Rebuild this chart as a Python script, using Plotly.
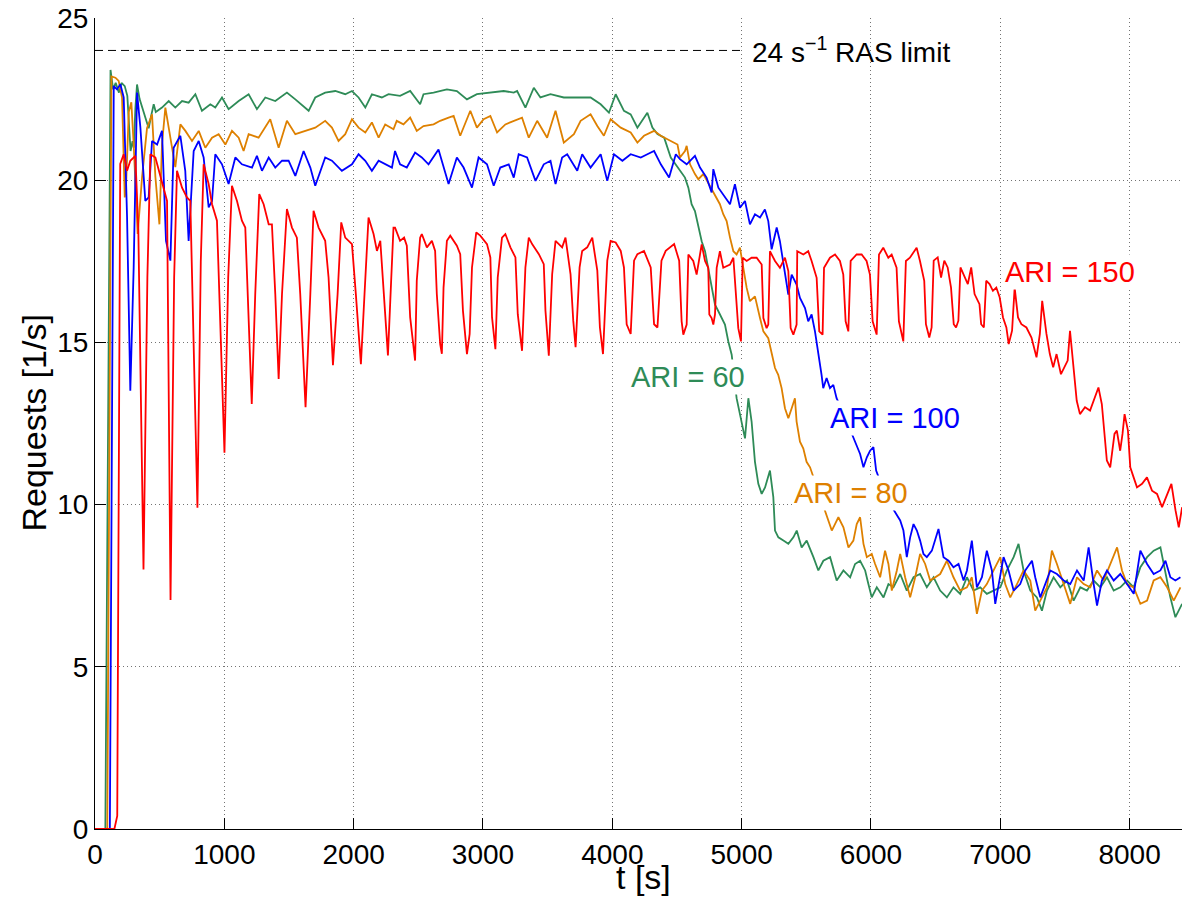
import plotly.graph_objects as go

# ---------------- data (t [s], requests [1/s]) ----------------
ARI60 = [(0,0),(80,0),(120,23.4),(140,22.8),(160,23.0),(185,22.7),(205,23.0),(230,22.9),(250,22.6),(262,21.8),
(275,20.9),(290,21.2),(300,21.0),(312,22.2),(325,22.95),(345,22.5),(370,22.2),(395,21.9),(415,21.6),(435,22.0),
(454,22.34),(470,22.1),(518,22.24),(570,22.44),(621,22.24),(673,22.44),(724,22.39),(776,22.65),(827,22.14),(892,22.34),
(930,22.24),(982,22.55),(1033,22.19),(1111,22.44),(1188,22.65),(1252,22.19),(1317,22.55),(1394,22.44),(1484,22.7),(1549,22.49),
(1652,22.14),(1703,22.55),(1780,22.7),(1858,22.75),(1935,22.65),(1987,22.75),(2038,22.55),(2090,22.24),(2141,22.65),(2218,22.55),
(2270,22.65),(2359,22.6),(2437,22.75),(2514,22.34),(2540,22.65),(2618,22.7),(2721,22.8),(2798,22.75),(2876,22.49),(2953,22.65),
(3057,22.7),(3160,22.75),(3238,22.7),(3264,22.75),(3328,22.24),(3393,22.85),(3444,22.55),(3522,22.65),(3625,22.55),(3729,22.55),
(3832,22.55),(3910,22.34),(3974,22.08),(4026,22.65),(4090,22.14),(4142,22.03),(4194,21.62),(4271,22.08),(4310,21.62),(4349,21.42),
(4401,21.31),(4452,20.7),(4523,20.3),(4562,20.08),(4588,19.77),(4613,19.26),(4639,19.05),(4665,18.54),(4691,18.12),(4717,17.81),
(4742,17.3),(4768,16.68),(4794,16.16),(4820,15.96),(4845,15.75),(4871,15.55),(4897,15.03),(4923,14.62),(4961,13.28),(5000,12.56),
(5026,12.04),(5052,13.28),(5077,12.56),(5103,11.32),(5129,10.64),(5155,10.33),(5181,10.53),(5219,11.05),(5245,10.23),(5258,9.2),
(5284,8.99),(5323,8.89),(5361,8.79),(5400,8.99),(5426,9.2),(5464,8.68),(5503,8.89),(5555,8.38),(5593,7.97),(5632,8.27),
(5684,8.38),(5735,7.66),(5787,7.97),(5839,7.76),(5877,8.17),(5916,8.27),(5955,7.97),(5980,7.55),(6006,7.14),(6045,7.45),
(6097,7.14),(6135,7.55),(6174,7.45),(6226,7.86),(6277,7.35),(6329,7.76),(6380,7.86),(6432,7.45),(6484,7.76),(6535,7.35),
(6587,7.14),(6638,7.45),(6690,7.25),(6742,7.76),(6793,7.35),(6845,7.45),(6896,7.25),(6948,7.35),(7000,7.45),(7051,7.97),
(7103,8.38),(7141,8.79),(7180,7.97),(7232,7.35),(7283,7.14),(7322,6.73),(7361,7.35),(7412,7.76),(7464,7.45),(7516,7.66),
(7567,7.04),(7619,7.45),(7670,7.35),(7722,7.66),(7774,7.45),(7825,7.76),(7877,7.35),(7928,7.45),(7980,7.66),(8032,7.45),
(8083,8.07),(8135,8.38),(8186,8.58),(8238,8.68),(8277,7.86),(8315,7.14),(8354,6.53),(8406,6.94)]

ARI80 = [(0,0),(95,0),(127,23.2),(158,23.16),(183,23.06),(209,22.55),(230,19.47),(240,19.8),(261,22.1),(281,22.4),
(299,21.1),(330,18.34),(364,20.1),(402,21.6),(441,22.03),(467,20.1),(498,18.64),(518,21.1),(544,22.24),(583,21.3),
(621,20.4),(660,21.72),(699,21.52),(750,21.21),(802,21.52),(853,21.0),(905,21.31),(956,21.42),(1008,21.1),(1059,21.52),
(1111,21.31),(1149,20.9),(1188,21.42),(1265,21.31),(1317,21.62),(1355,21.88),(1420,21.0),(1484,21.83),(1549,21.42),(1626,21.52),
(1703,21.62),(1780,21.83),(1832,21.62),(1883,21.21),(1935,21.42),(1987,21.88),(2038,21.62),(2090,21.47),(2141,21.78),(2193,21.31),
(2244,21.72),(2308,21.57),(2333,21.83),(2385,21.72),(2437,21.93),(2488,21.52),(2540,21.67),(2618,21.72),(2669,21.83),(2734,21.93),
(2773,21.98),(2824,21.37),(2902,22.14),(2953,21.62),(3005,21.88),(3057,21.98),(3109,21.47),(3173,21.72),(3238,21.83),(3302,21.93),
(3354,21.31),(3419,21.83),(3496,21.31),(3561,22.14),(3625,21.16),(3703,21.42),(3755,21.83),(3832,22.03),(3884,21.67),(3935,21.37),
(3987,21.88),(4065,21.62),(4142,21.47),(4194,21.16),(4245,21.37),(4323,21.52),(4375,21.37),(4452,21.21),(4504,21.1),(4523,20.7),
(4562,20.9),(4575,21.06),(4601,20.49),(4639,20.19),(4665,20.03),(4704,20.19),(4755,19.82),(4794,19.57),(4832,19.26),(4858,18.95),
(4884,18.74),(4910,18.23),(4936,17.81),(4961,17.71),(4987,17.92),(5013,17.3),(5039,16.68),(5064,16.27),(5103,16.42),(5142,15.75),
(5168,15.34),(5206,15.13),(5232,14.62),(5258,14.21),(5283,14.0),(5309,13.59),(5335,12.97),(5361,12.66),(5387,12.97),(5412,13.28),
(5425,12.56),(5451,11.94),(5477,11.73),(5502,11.32),(5529,11.15),(5600,10.3),(5671,9.51),(5697,9.2),(5722,9.4),(5748,9.61),
(5787,9.3),(5826,8.68),(5864,8.89),(5890,9.4),(5916,9.61),(5942,8.79),(5968,8.38),(6006,8.48),(6032,8.17),(6071,7.76),
(6109,8.58),(6135,8.17),(6161,7.35),(6200,7.97),(6226,8.48),(6264,7.76),(6303,7.14),(6342,7.76),(6380,8.48),(6419,8.17),
(6458,7.66),(6496,7.76),(6535,7.86),(6587,8.27),(6638,7.76),(6690,7.35),(6742,7.45),(6780,7.76),(6819,6.63),(6858,7.35),
(6896,7.55),(6948,7.97),(7000,8.38),(7038,7.55),(7077,7.14),(7129,7.55),(7180,7.97),(7232,7.66),(7270,6.73),(7309,7.04),
(7361,7.45),(7399,8.58),(7438,8.17),(7490,7.55),(7541,6.94),(7593,7.76),(7645,7.55),(7696,7.45),(7748,7.97),(7799,7.66),
(7851,8.17),(7903,8.68),(7941,7.97),(7980,7.55),(8032,7.45),(8083,6.94),(8135,7.04),(8186,7.66),(8238,7.76),(8290,7.45),
(8341,7.04),(8393,7.45)]

ARI100 = [(0,0),(115,0),(145,22.9),(170,22.8),(196,22.96),(222,22.55),(248,18.85),(273,13.51),(299,17.31),(325,22.7),
(351,21.62),(389,19.36),(415,19.47),(441,21.21),(480,21.1),(518,21.52),(549,18.13),(583,17.52),(608,21.0),(660,21.37),
(698,20.29),(724,18.13),(763,20.9),(802,21.21),(840,20.7),(879,19.16),(905,19.36),(930,20.8),(982,20.49),(1033,19.88),
(1085,20.7),(1136,20.49),(1214,20.39),(1252,20.75),(1291,20.29),(1343,20.7),(1394,20.39),(1446,20.6),(1497,20.6),(1549,20.13),
(1613,20.9),(1665,20.39),(1703,19.83),(1780,20.7),(1832,20.6),(1909,20.29),(1987,20.49),(2038,20.8),(2090,20.6),(2141,20.29),
(2193,20.6),(2244,20.49),(2296,20.39),(2320,20.9),(2359,20.49),(2411,20.39),(2475,20.85),(2527,20.7),(2579,20.49),(2656,20.95),
(2734,19.88),(2798,20.7),(2850,20.39),(2915,19.77),(2966,20.7),(3031,20.49),(3083,19.83),(3134,20.39),(3199,20.49),(3238,20.08),
(3276,20.8),(3341,20.7),(3406,19.98),(3470,20.49),(3522,20.6),(3561,19.88),(3612,20.7),(3651,20.8),(3729,20.29),(3767,20.8),
(3832,20.39),(3910,20.8),(3961,19.98),(4013,20.8),(4078,20.6),(4142,20.8),(4220,20.7),(4271,20.8),(4323,20.9),(4375,20.49),
(4439,20.08),(4491,20.8),(4523,20.65),(4575,20.49),(4639,20.75),(4678,20.39),(4729,20.08),(4768,19.62),(4781,20.34),(4820,19.77),
(4858,19.57),(4910,19.26),(4948,19.88),(4987,19.15),(5026,19.36),(5064,18.64),(5103,18.95),(5142,18.85),(5180,19.1),(5206,18.74),
(5232,17.87),(5271,18.54),(5296,18.12),(5322,17.4),(5361,16.47),(5387,17.09),(5425,16.78),(5451,16.37),(5490,16.06),(5515,15.65),
(5541,15.86),(5567,15.34),(5593,14.72),(5618,14.0),(5631,13.59),(5657,13.9),(5683,13.59),(5709,13.69),(5734,13.28),(5790,12.8),
(5840,12.3),(5890,11.82),(5916,11.56),(5942,11.15),(5968,11.46),(5993,11.66),(6019,11.77),(6040,11.05),(6120,10.2),(6226,9.51),
(6251,9.2),(6277,8.38),(6303,8.99),(6329,9.4),(6355,9.2),(6380,8.89),(6406,8.48),(6432,8.38),(6471,8.58),(6522,9.25),
(6561,8.38),(6600,8.27),(6638,8.07),(6677,8.17),(6716,7.66),(6742,7.97),(6780,8.89),(6819,7.45),(6858,7.76),(6896,8.58),
(6935,7.97),(6961,6.94),(7000,7.86),(7025,8.38),(7064,7.97),(7103,7.35),(7154,7.55),(7193,7.97),(7245,8.27),(7270,7.76),
(7309,7.14),(7348,7.55),(7387,7.97),(7438,7.86),(7490,7.66),(7541,7.55),(7593,7.97),(7645,7.66),(7683,8.68),(7722,7.55),
(7748,6.89),(7786,7.66),(7825,7.97),(7877,7.66),(7928,7.86),(7980,7.55),(8032,7.25),(8083,8.58),(8135,8.17),(8186,7.86),
(8238,7.97),(8277,8.27),(8315,7.76),(8354,7.66),(8393,7.76)]

ARI150 = [(0,0),(150,0),(172,0.4),(195,20.5),(222,20.8),(248,20.29),(273,20.6),(312,20.75),(335,18.5),(375,8.0),
(405,17.0),(428,20.8),(467,20.7),(518,19.98),(557,19.36),(584,7.06),(612,17.0),(634,20.29),(673,19.77),(711,19.47),
(737,19.36),(792,9.9),(818,17.5),(840,20.49),(879,19.88),(905,19.26),(943,18.75),(1001,11.6),(1030,17.0),(1059,19.83),
(1098,19.36),(1136,18.75),(1162,18.54),(1212,13.1),(1239,16.49),(1270,19.57),(1304,19.26),(1343,18.64),(1368,18.64),(1394,16.49),
(1420,13.87),(1446,16.49),(1484,19.11),(1523,18.54),(1561,18.23),(1587,16.49),(1628,13.0),(1665,16.49),(1690,19.06),(1729,18.54),
(1780,18.13),(1806,17.0),(1840,14.3),(1876,16.49),(1904,18.7),(1935,18.23),(1987,18.03),(2017,16.49),(2056,14.33),(2084,16.49),
(2115,18.85),(2154,18.34),(2180,17.82),(2206,18.13),(2231,16.49),(2265,14.6),(2291,17.0),(2308,18.54),(2320,18.54),(2359,18.13),
(2390,18.23),(2411,17.98),(2437,15.77),(2475,14.44),(2488,16.9),(2514,18.23),(2527,18.34),(2566,17.93),(2605,18.13),(2630,17.82),
(2643,16.49),(2669,14.95),(2682,14.65),(2695,16.69),(2721,18.13),(2747,18.29),(2798,17.98),(2824,17.72),(2845,15.98),(2876,14.64),
(2897,15.26),(2915,17.31),(2948,18.39),(2979,18.29),(3031,18.03),(3057,17.62),(3070,15.77),(3096,14.79),(3114,17.0),(3147,18.23),
(3173,18.34),(3212,17.93),(3251,17.62),(3269,15.87),(3302,14.74),(3328,17.31),(3354,18.23),(3380,18.03),(3432,17.72),(3470,17.41),
(3483,15.98),(3509,14.59),(3535,17.1),(3561,18.13),(3612,17.93),(3638,18.23),(3677,17.1),(3698,15.67),(3716,14.85),(3747,17.31),
(3767,17.82),(3806,17.93),(3845,18.23),(3884,17.21),(3904,15.46),(3928,14.64),(3961,17.52),(3987,18.13),(4026,18.08),(4065,17.82),
(4090,17.31),(4111,15.56),(4142,15.26),(4168,17.52),(4194,17.72),(4245,17.82),(4297,17.31),(4323,15.56),(4349,15.46),(4380,17.52),
(4413,17.82),(4478,18.03),(4517,17.52),(4536,15.65),(4549,15.24),(4575,15.55),(4588,17.71),(4626,17.51),(4652,17.09),(4678,17.71),
(4691,18.02),(4717,17.51),(4742,17.3),(4750,15.86),(4768,15.75),(4781,15.55),(4794,15.86),(4807,17.3),(4832,17.81),(4858,17.3),
(4910,17.4),(4936,17.61),(4961,16.16),(4974,15.44),(4995,15.03),(5008,17.61),(5039,17.51),(5077,17.61),(5116,17.61),(5155,17.4),
(5168,15.75),(5193,15.44),(5206,15.55),(5219,17.81),(5258,17.51),(5296,17.3),(5335,17.61),(5361,17.2),(5379,15.44),(5400,15.24),
(5425,15.55),(5430,17.81),(5477,17.71),(5515,17.81),(5541,17.51),(5580,16.99),(5600,15.34),(5626,15.24),(5637,17.3),(5683,17.61),
(5722,17.71),(5760,17.51),(5786,17.09),(5804,15.65),(5825,15.34),(5843,17.51),(5889,17.71),(5928,17.71),(5966,17.51),(5992,17.09),
(6013,15.65),(6044,15.24),(6062,17.71),(6095,17.92),(6134,17.61),(6160,17.71),(6198,17.3),(6216,15.65),(6250,15.03),(6270,17.51),
(6301,17.61),(6353,17.92),(6379,17.51),(6412,16.9),(6425,15.56),(6451,15.15),(6469,15.46),(6485,17.52),(6516,17.62),(6542,17.0),
(6567,17.52),(6593,17.31),(6619,16.69),(6640,15.56),(6658,15.46),(6676,15.67),(6692,17.31),(6723,17.0),(6749,16.8),(6775,17.31),
(6801,16.49),(6839,16.18),(6852,15.56),(6873,15.46),(6891,16.9),(6917,16.8),(6943,16.59),(6969,16.69),(6995,16.39),(7021,15.77),
(7047,15.46),(7065,14.95),(7091,15.36),(7111,16.69),(7137,15.77),(7163,15.56),(7202,15.46),(7241,15.15),(7280,14.54),(7306,15.26),
(7324,16.28),(7357,15.26),(7383,14.64),(7409,14.23),(7435,14.64),(7469,14.02),(7495,14.23),(7521,14.44),(7539,15.36),(7565,14.33),
(7591,13.2),(7616,12.79),(7655,13.0),(7694,12.9),(7733,13.31),(7759,13.61),(7785,13.1),(7805,12.18),(7824,11.36),(7850,11.15),
(7883,12.18),(7901,12.28),(7927,11.66),(7945,12.18),(7961,12.79),(7987,12.28),(8005,11.15),(8031,10.84),(8057,10.53),(8096,10.64),
(8134,10.84),(8173,10.43),(8212,10.33),(8251,9.92),(8290,10.33),(8323,10.64),(8355,9.82),(8380,9.3),(8406,9.92)]

RAS_LIMIT = 24
RAS_LINE_T = [0, 4990]

SERIES = [("ARI = 60", ARI60, "#2E8B57"),
          ("ARI = 80", ARI80, "#DE8000"),
          ("ARI = 100", ARI100, "#0000FF"),
          ("ARI = 150", ARI150, "#FF0000")]

LABEL_TEXT = ["ARI = 60", "ARI = 80", "ARI = 100", "ARI = 150"]
LABEL_T = [4586, 5842, 6185, 7538]
LABEL_V = [13.93, 10.36, 12.67, 17.18]
LABEL_COLOR = ["#2E8B57", "#DE8000", "#0000FF", "#FF0000"]

X_TICKS = [0, 1000, 2000, 3000, 4000, 5000, 6000, 7000, 8000]
Y_TICKS = [0, 5, 10, 15, 20, 25]

FONT = "Liberation Sans, Arial, Helvetica, sans-serif"

fig = go.Figure()

fig.add_trace(go.Scatter(x=RAS_LINE_T, y=[RAS_LIMIT, RAS_LIMIT], mode="lines",
                         line=dict(color="black", width=1, dash="8px,5px"),
                         showlegend=False, hoverinfo="skip"))

for name, data, color in SERIES:
    fig.add_trace(go.Scatter(x=[p[0] for p in data], y=[p[1] for p in data],
                             mode="lines", name=name,
                             line=dict(color=color, width=1.8),
                             showlegend=False))

annotations = []
for txt, t, v, c in zip(LABEL_TEXT, LABEL_T, LABEL_V, LABEL_COLOR):
    annotations.append(dict(x=t, y=v, xref="x", yref="y", text=txt, showarrow=False,
                            xanchor="center", yanchor="middle",
                            font=dict(family=FONT, size=29, color=c),
                            bgcolor="white"))

annotations.append(dict(x=5065, y=RAS_LIMIT, xref="x", yref="y",
                        text="24 s<sup>\u22121</sup> RAS limit", showarrow=False,
                        xanchor="left", yanchor="middle",
                        font=dict(family=FONT, size=28, color="black")))

# axis titles
annotations.append(dict(x=(33 - 95) / 1087, y=0.5, xref="paper", yref="paper",
                        text="Requests [1/s]", showarrow=False, textangle=-90,
                        xanchor="center", yanchor="middle",
                        font=dict(family=FONT, size=34, color="black")))
annotations.append(dict(x=(643 - 95) / 1087, y=(829 - 877) / 811, xref="paper", yref="paper",
                        text="t [s]", showarrow=False,
                        xanchor="center", yanchor="middle",
                        font=dict(family=FONT, size=34, color="black")))

axis_common = dict(showline=True, linecolor="black", linewidth=1,
                   ticks="inside", ticklen=11, tickwidth=1, tickcolor="black",
                   showgrid=True, gridcolor="rgba(0,0,0,0.55)", gridwidth=1, griddash="1px,3px",
                   zeroline=False, mirror=False, automargin=False,
                   tickfont=dict(family=FONT, size=28, color="black"))

fig.update_layout(
    width=1182, height=899,
    margin=dict(l=95, r=0, t=18, b=70, autoexpand=False),
    paper_bgcolor="white", plot_bgcolor="white",
    xaxis=dict(range=[0, 8405], tickvals=X_TICKS, **axis_common),
    yaxis=dict(range=[0, 25], tickvals=Y_TICKS, **axis_common),
    annotations=annotations,
    showlegend=False,
)

fig.write_html("out.html",
               config={"displayModeBar": False},
               post_script="document.body.style.margin='0';document.body.style.overflow='hidden';")
